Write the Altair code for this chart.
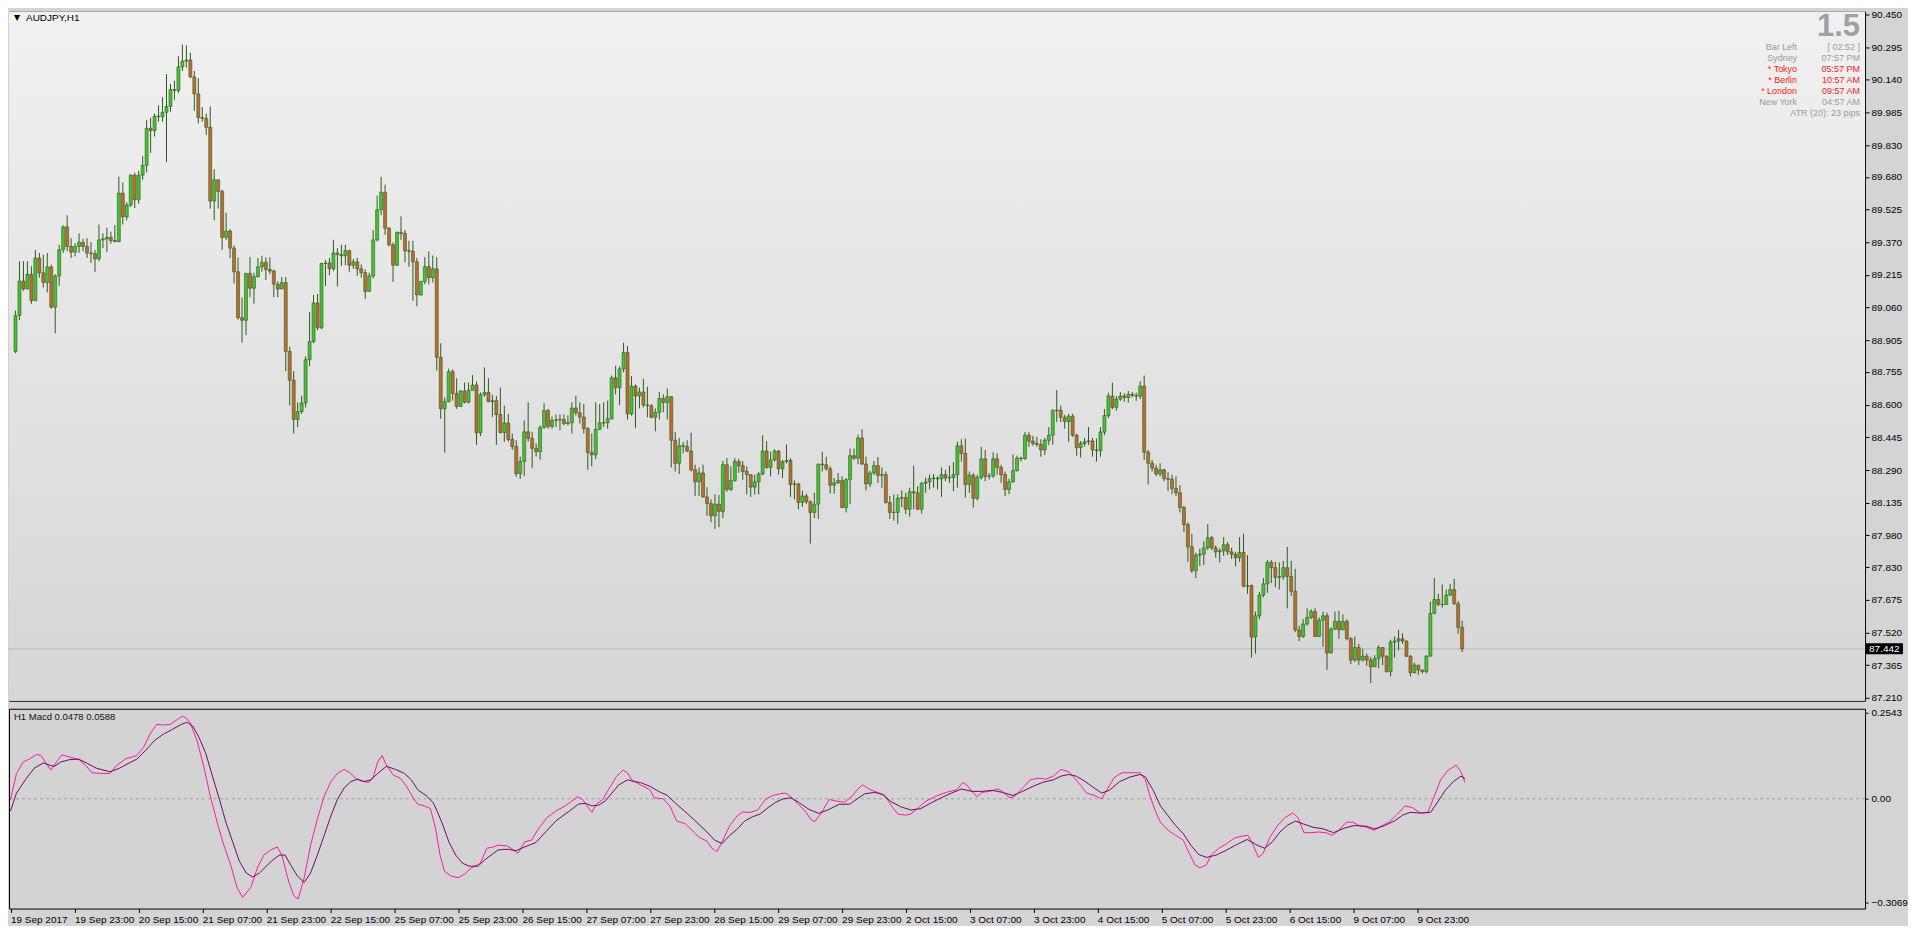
import altair as alt
import pandas as pd

# ---------------- data ----------------
SYMBOL = "AUDJPY,H1"
FIRST_OPEN = 88.852
CLOSE = [
    89.023, 89.186, 89.148, 89.218, 89.093, 89.295, 89.225, 89.179, 89.253, 89.062,
    89.210, 89.334, 89.443, 89.350, 89.323, 89.350, 89.370, 89.350, 89.319, 89.316,
    89.291, 89.381, 89.386, 89.393, 89.378, 89.373, 89.603, 89.490, 89.547, 89.688,
    89.571, 89.688, 89.734, 89.910, 89.899, 89.968, 89.965, 89.986, 90.014, 90.094,
    90.089, 90.201, 90.229, 90.234, 90.154, 90.073, 89.961, 89.957, 89.915, 89.565,
    89.666, 89.611, 89.393, 89.423, 89.342, 89.230, 89.012, 89.000, 89.222, 89.152,
    89.207, 89.253, 89.275, 89.241, 89.233, 89.171, 89.148, 89.179, 88.852, 88.716,
    88.530, 88.567, 88.608, 88.813, 88.899, 89.082, 88.964, 89.269, 89.272, 89.244,
    89.319, 89.311, 89.306, 89.330, 89.261, 89.277, 89.244, 89.226, 89.137, 89.210,
    89.381, 89.524, 89.607, 89.436, 89.358, 89.261, 89.417, 89.412, 89.330, 89.327,
    89.277, 89.120, 89.184, 89.254, 89.202, 89.244, 88.824, 88.580, 88.614, 88.756,
    88.653, 88.591, 88.665, 88.611, 88.668, 88.693, 88.466, 88.647, 88.658, 88.614,
    88.619, 88.553, 88.468, 88.513, 88.435, 88.401, 88.273, 88.331, 88.471, 88.440,
    88.393, 88.377, 88.491, 88.572, 88.497, 88.525, 88.528, 88.530, 88.510, 88.514,
    88.584, 88.561, 88.541, 88.486, 88.373, 88.362, 88.483, 88.514, 88.513, 88.533,
    88.727, 88.680, 88.769, 88.847, 88.556, 88.688, 88.641, 88.660, 88.598, 88.595,
    88.540, 88.564, 88.629, 88.610, 88.638, 88.431, 88.322, 88.405, 88.402, 88.380,
    88.291, 88.234, 88.276, 88.162, 88.131, 88.073, 88.128, 88.094, 88.315, 88.198,
    88.240, 88.330, 88.310, 88.283, 88.268, 88.209, 88.234, 88.271, 88.380, 88.302,
    88.338, 88.380, 88.296, 88.330, 88.335, 88.221, 88.224, 88.136, 88.167, 88.140,
    88.089, 88.128, 88.318, 88.315, 88.296, 88.218, 88.229, 88.240, 88.112, 88.244,
    88.358, 88.346, 88.442, 88.318, 88.224, 88.276, 88.311, 88.265, 88.268, 88.136,
    88.089, 88.089, 88.156, 88.159, 88.104, 88.187, 88.182, 88.104, 88.226, 88.234,
    88.249, 88.252, 88.248, 88.268, 88.252, 88.255, 88.268, 88.405, 88.369, 88.221,
    88.265, 88.156, 88.255, 88.343, 88.260, 88.262, 88.343, 88.302, 88.268, 88.198,
    88.234, 88.287, 88.346, 88.344, 88.455, 88.427, 88.416, 88.411, 88.385, 88.431,
    88.455, 88.571, 88.574, 88.540, 88.520, 88.545, 88.455, 88.396, 88.416, 88.424,
    88.428, 88.385, 88.382, 88.470, 88.548, 88.641, 88.587, 88.626, 88.641, 88.634,
    88.649, 88.644, 88.640, 88.688, 88.374, 88.322, 88.299, 88.271, 88.291, 88.249,
    88.246, 88.203, 88.182, 88.112, 88.031, 87.926, 87.813, 87.887, 87.891, 87.921,
    87.969, 87.921, 87.902, 87.907, 87.936, 87.902, 87.890, 87.874, 87.899, 87.739,
    87.742, 87.498, 87.599, 87.697, 87.750, 87.852, 87.827, 87.781, 87.784, 87.827,
    87.785, 87.715, 87.532, 87.501, 87.560, 87.591, 87.619, 87.501, 87.578, 87.599,
    87.423, 87.536, 87.572, 87.532, 87.572, 87.490, 87.389, 87.448, 87.389, 87.407,
    87.389, 87.357, 87.396, 87.448, 87.407, 87.334, 87.474, 87.479, 87.490, 87.479,
    87.407, 87.329, 87.365, 87.342, 87.334, 87.407, 87.610, 87.676, 87.653, 87.652,
    87.697, 87.723, 87.656, 87.544, 87.442,
]
HIGH = [
    89.046, 89.280, 89.280, 89.280, 89.256, 89.334, 89.319, 89.311, 89.319, 89.264,
    89.218, 89.358, 89.450, 89.498, 89.389, 89.365, 89.412, 89.386, 89.389, 89.370,
    89.334, 89.454, 89.412, 89.439, 89.420, 89.451, 89.681, 89.653, 89.560, 89.692,
    89.700, 89.708, 89.778, 89.949, 89.960, 89.980, 90.019, 90.058, 90.167, 90.120,
    90.136, 90.252, 90.307, 90.304, 90.268, 90.182, 90.148, 90.011, 89.980, 90.014,
    89.716, 89.666, 89.619, 89.510, 89.432, 89.355, 89.298, 89.109, 89.225, 89.300,
    89.225, 89.295, 89.306, 89.298, 89.298, 89.241, 89.186, 89.205, 89.205, 88.875,
    88.759, 88.611, 88.642, 88.829, 89.039, 89.120, 89.124, 89.272, 89.285, 89.296,
    89.381, 89.342, 89.358, 89.358, 89.335, 89.291, 89.296, 89.265, 89.241, 89.226,
    89.428, 89.591, 89.680, 89.643, 89.443, 89.369, 89.420, 89.493, 89.428, 89.377,
    89.377, 89.296, 89.187, 89.300, 89.327, 89.307, 89.300, 88.891, 88.634, 88.770,
    88.767, 88.725, 88.668, 88.704, 88.704, 88.740, 88.709, 88.658, 88.777, 88.725,
    88.647, 88.642, 88.681, 88.595, 88.556, 88.463, 88.432, 88.354, 88.525, 88.611,
    88.471, 88.416, 88.502, 88.606, 88.580, 88.544, 88.553, 88.553, 88.553, 88.549,
    88.611, 88.642, 88.611, 88.603, 88.494, 88.463, 88.611, 88.603, 88.611, 88.619,
    88.738, 88.784, 88.781, 88.893, 88.878, 88.735, 88.696, 88.680, 88.722, 88.685,
    88.602, 88.582, 88.660, 88.649, 88.676, 88.638, 88.470, 88.442, 88.423, 88.431,
    88.467, 88.315, 88.302, 88.315, 88.209, 88.151, 88.174, 88.171, 88.333, 88.346,
    88.307, 88.346, 88.343, 88.333, 88.307, 88.244, 88.268, 88.280, 88.455, 88.427,
    88.377, 88.389, 88.385, 88.338, 88.411, 88.346, 88.240, 88.229, 88.193, 88.178,
    88.146, 88.182, 88.320, 88.377, 88.353, 88.307, 88.252, 88.276, 88.260, 88.252,
    88.392, 88.392, 88.458, 88.483, 88.353, 88.287, 88.333, 88.352, 88.302, 88.283,
    88.167, 88.174, 88.174, 88.193, 88.182, 88.206, 88.311, 88.213, 88.234, 88.255,
    88.268, 88.271, 88.260, 88.302, 88.291, 88.311, 88.327, 88.424, 88.436, 88.439,
    88.283, 88.276, 88.268, 88.400, 88.385, 88.276, 88.374, 88.369, 88.315, 88.283,
    88.249, 88.364, 88.358, 88.353, 88.470, 88.470, 88.452, 88.447, 88.436, 88.442,
    88.494, 88.579, 88.669, 88.595, 88.551, 88.556, 88.556, 88.462, 88.427, 88.442,
    88.494, 88.442, 88.439, 88.494, 88.579, 88.657, 88.704, 88.641, 88.660, 88.654,
    88.665, 88.660, 88.657, 88.711, 88.738, 88.385, 88.338, 88.315, 88.322, 88.296,
    88.280, 88.268, 88.260, 88.218, 88.120, 88.042, 87.988, 87.898, 87.918, 87.952,
    88.034, 87.977, 87.933, 87.918, 87.972, 87.949, 87.921, 87.902, 87.972, 87.988,
    87.887, 87.747, 87.619, 87.712, 87.778, 87.863, 87.863, 87.855, 87.852, 87.859,
    87.925, 87.859, 87.821, 87.552, 87.583, 87.634, 87.630, 87.634, 87.591, 87.619,
    87.614, 87.544, 87.619, 87.622, 87.606, 87.583, 87.498, 87.501, 87.466, 87.443,
    87.420, 87.404, 87.412, 87.459, 87.451, 87.412, 87.485, 87.501, 87.532, 87.516,
    87.482, 87.412, 87.376, 87.354, 87.342, 87.412, 87.666, 87.778, 87.703, 87.747,
    87.723, 87.750, 87.775, 87.669, 87.575,
]
LOW = [
    88.844, 89.000, 89.140, 89.148, 89.078, 89.093, 89.202, 89.155, 89.132, 89.055,
    88.938, 89.163, 89.319, 89.327, 89.295, 89.303, 89.319, 89.327, 89.295, 89.272,
    89.230, 89.280, 89.342, 89.323, 89.362, 89.370, 89.370, 89.454, 89.474, 89.537,
    89.532, 89.552, 89.666, 89.700, 89.793, 89.871, 89.941, 89.941, 89.750, 89.988,
    90.045, 90.077, 90.182, 90.198, 90.148, 89.993, 89.933, 89.941, 89.879, 89.529,
    89.474, 89.529, 89.334, 89.381, 89.295, 89.174, 89.003, 88.894, 88.930, 89.109,
    89.078, 89.202, 89.230, 89.191, 89.218, 89.109, 89.109, 89.148, 88.759, 88.595,
    88.463, 88.494, 88.556, 88.587, 88.782, 88.891, 88.953, 88.958, 89.163, 89.213,
    89.233, 89.160, 89.257, 89.261, 89.230, 89.244, 89.210, 89.202, 89.101, 89.171,
    89.198, 89.373, 89.498, 89.405, 89.350, 89.182, 89.257, 89.381, 89.275, 89.254,
    89.093, 89.067, 89.117, 89.171, 89.171, 89.179, 88.762, 88.533, 88.373, 88.611,
    88.619, 88.580, 88.591, 88.606, 88.606, 88.668, 88.409, 88.451, 88.637, 88.611,
    88.541, 88.409, 88.463, 88.424, 88.424, 88.385, 88.258, 88.248, 88.261, 88.424,
    88.300, 88.354, 88.339, 88.486, 88.486, 88.486, 88.494, 88.479, 88.502, 88.502,
    88.463, 88.549, 88.510, 88.463, 88.292, 88.307, 88.342, 88.479, 88.494, 88.486,
    88.529, 88.649, 88.598, 88.753, 88.529, 88.548, 88.489, 88.582, 88.587, 88.540,
    88.535, 88.473, 88.529, 88.564, 88.529, 88.302, 88.283, 88.271, 88.369, 88.374,
    88.283, 88.167, 88.167, 88.159, 88.073, 88.042, 88.011, 88.019, 88.062, 88.187,
    88.190, 88.234, 88.276, 88.244, 88.174, 88.162, 88.174, 88.174, 88.265, 88.296,
    88.260, 88.330, 88.268, 88.252, 88.322, 88.162, 88.151, 88.104, 88.115, 88.128,
    87.941, 88.062, 88.058, 88.283, 88.287, 88.178, 88.178, 88.224, 88.109, 88.089,
    88.128, 88.338, 88.318, 88.315, 88.193, 88.209, 88.265, 88.229, 88.206, 88.131,
    88.058, 88.050, 88.034, 88.115, 88.081, 88.069, 88.104, 88.100, 88.084, 88.182,
    88.198, 88.206, 88.198, 88.162, 88.237, 88.229, 88.190, 88.206, 88.330, 88.159,
    88.182, 88.112, 88.146, 88.245, 88.237, 88.245, 88.252, 88.268, 88.229, 88.167,
    88.175, 88.229, 88.283, 88.330, 88.338, 88.400, 88.405, 88.400, 88.353, 88.361,
    88.408, 88.411, 88.517, 88.517, 88.486, 88.424, 88.447, 88.358, 88.349, 88.400,
    88.408, 88.353, 88.330, 88.353, 88.455, 88.536, 88.579, 88.571, 88.618, 88.613,
    88.610, 88.634, 88.618, 88.626, 88.338, 88.221, 88.283, 88.260, 88.260, 88.237,
    88.190, 88.175, 88.167, 88.089, 87.996, 87.855, 87.801, 87.778, 87.835, 87.840,
    87.910, 87.910, 87.874, 87.852, 87.883, 87.887, 87.868, 87.832, 87.855, 87.734,
    87.703, 87.401, 87.420, 87.583, 87.687, 87.708, 87.754, 87.734, 87.723, 87.770,
    87.634, 87.692, 87.521, 87.479, 87.494, 87.552, 87.583, 87.498, 87.498, 87.451,
    87.342, 87.420, 87.532, 87.490, 87.536, 87.482, 87.370, 87.381, 87.365, 87.381,
    87.361, 87.280, 87.357, 87.350, 87.365, 87.330, 87.311, 87.401, 87.435, 87.466,
    87.404, 87.311, 87.326, 87.319, 87.326, 87.326, 87.407, 87.606, 87.645, 87.638,
    87.653, 87.692, 87.650, 87.513, 87.427,
]
BID = 87.442
PRICE_TICKS = [90.450, 90.295, 90.140, 89.985, 89.830, 89.680, 89.525, 89.370, 89.215,
               89.060, 88.905, 88.755, 88.600, 88.445, 88.290, 88.135, 87.980, 87.830,
               87.675, 87.520, 87.365, 87.210]
PRICE_DOMAIN = [87.196, 90.464]

X_LABELS = ["19 Sep 2017", "19 Sep 23:00", "20 Sep 15:00", "21 Sep 07:00", "21 Sep 23:00",
            "22 Sep 15:00", "25 Sep 07:00", "25 Sep 23:00", "26 Sep 15:00", "27 Sep 07:00",
            "27 Sep 23:00", "28 Sep 15:00", "29 Sep 07:00", "29 Sep 23:00", "2 Oct 15:00",
            "3 Oct 07:00", "3 Oct 23:00", "4 Oct 15:00", "5 Oct 07:00", "5 Oct 23:00",
            "6 Oct 15:00", "9 Oct 07:00", "9 Oct 23:00"]
BARS_PER_LABEL = 16

MACD_TITLE = "H1 Macd 0.0478 0.0588"
MAIN_BAR = [0, 1.5, 3.2, 4.8, 6.5, 7.6, 8.7, 10.1, 11.5, 12.9, 14.9, 17.1, 18.8, 20.4, 22.7,
            24.9, 26.6, 28.8, 31.6, 33.3, 34.9, 36.6, 38.3, 40.0, 41.7, 43.0, 43.9, 45.0,
            46.7, 48.4, 50.0, 51.7, 53.4, 55.1, 56.7, 58.1, 60.1, 61.8, 63.4, 65.1, 66.8,
            67.9, 69.6, 70.9, 72.0, 73.5, 75.1, 76.8, 78.5, 80.2, 81.8, 83.5, 85.0, 86.3,
            87.4, 88.5, 89.7, 90.8, 91.9, 93.0, 94.1, 95.8, 97.5, 99.1, 100.8, 101.9, 103.6,
            105.1, 106.4, 107.5, 108.6, 110.3, 112.0, 113.6, 115.3, 117.6, 119.2, 120.9,
            122.0, 124.3, 125.9, 127.0, 128.7, 130.4, 132.1, 134.3, 136.5, 138.8, 140.4,
            141.9, 143.2, 144.3, 145.5, 146.6, 148.2, 149.9, 151.6, 153.3, 154.4, 155.5,
            157.7, 160.0, 161.1, 163.3, 165.0, 166.7, 168.9, 170.6, 172.2, 174.3, 175.5,
            176.8, 178.1, 180.0, 181.9, 183.2, 185.1, 187.0, 188.9, 190.8, 192.7, 194.0,
            195.3, 197.2, 199.1, 200.4, 201.3, 203.0, 204.9, 206.8, 208.7, 210.6, 211.9,
            213.2, 215.1, 217.0, 218.9, 220.8, 222.1, 224.0, 225.3, 227.2, 229.1, 231.6,
            234.2, 236.8, 238.3, 239.3, 240.6, 241.9, 243.1, 245.0, 247.0, 248.2, 250.1,
            251.4, 253.3, 255.2, 257.2, 259.1, 261.0, 262.9, 264.8, 266.1, 268.0, 269.3,
            271.2, 273.1, 274.4, 276.3, 278.2, 280.8, 282.7, 284.0, 285.2, 286.5, 287.8,
            289.7, 291.6, 293.5, 294.8, 296.4, 297.7, 299.3, 300.5, 302.4, 304.4, 306.3,
            308.2, 309.7, 311.0, 312.3, 313.5, 315.2, 317.1, 319.0, 320.9, 322.2, 323.7,
            325.4, 327.3, 329.2, 330.9, 332.4, 334.3, 336.0, 337.5, 339.4, 341.3, 343.3,
            345.2, 347.1, 349.0, 350.9, 352.8, 354.7, 356.0, 357.9, 359.8, 361.8, 363.0,
            364.0]
MAIN_VAL = [-0.002, 0.075, 0.109, 0.118, 0.131, 0.128, 0.109, 0.085, 0.109, 0.130, 0.123,
            0.116, 0.099, 0.077, 0.075, 0.075, 0.099, 0.118, 0.128, 0.152, 0.191, 0.220,
            0.218, 0.220, 0.234, 0.244, 0.239, 0.224, 0.171, 0.094, 0.008, -0.069, -0.137,
            -0.195, -0.262, -0.291, -0.262, -0.204, -0.166, -0.151, -0.142, -0.166, -0.243,
            -0.286, -0.296, -0.233, -0.137, -0.060, 0.008, 0.051, 0.075, 0.087, 0.077,
            0.061, 0.054, 0.051, 0.048, 0.065, 0.109, 0.128, 0.099, 0.070, 0.061, 0.037,
            0.003, -0.016, -0.021, -0.029, -0.089, -0.166, -0.214, -0.228, -0.233, -0.223,
            -0.204, -0.190, -0.146, -0.142, -0.137, -0.139, -0.151, -0.161, -0.127, -0.122,
            -0.089, -0.055, -0.036, -0.021, -0.007, 0.006, -0.002, -0.021, -0.040, -0.016,
            -0.002, 0.032, 0.065, 0.085, 0.077, 0.056, 0.041, 0.027, 0.003, 0.000, -0.021,
            -0.065, -0.074, -0.093, -0.113, -0.125, -0.146, -0.156, -0.127, -0.079, -0.050,
            -0.039, -0.040, -0.033, -0.002, 0.010, 0.015, 0.017, 0.006, -0.016, -0.040,
            -0.062, -0.067, -0.040, -0.002, -0.007, -0.010, 0.008, 0.027, 0.041, 0.027,
            0.019, 0.008, -0.026, -0.045, -0.048, -0.045, -0.026, -0.007, 0.008, 0.019,
            0.027, 0.048, 0.041, 0.022, 0.006, 0.019, 0.022, 0.029, 0.022, 0.003, 0.008,
            0.032, 0.056, 0.061, 0.058, 0.067, 0.087, 0.080, 0.064, 0.037, 0.017, 0.010,
            0.000, 0.027, 0.064, 0.077, 0.077, 0.077, 0.056, 0.008, -0.036, -0.069, -0.093,
            -0.108, -0.122, -0.156, -0.195, -0.204, -0.195, -0.166, -0.146, -0.132, -0.116,
            -0.110, -0.108, -0.137, -0.173, -0.161, -0.113, -0.079, -0.055, -0.042, -0.055,
            -0.100, -0.100, -0.098, -0.100, -0.108, -0.093, -0.069, -0.069, -0.079, -0.084,
            -0.093, -0.079, -0.067, -0.045, -0.021, -0.026, -0.042, -0.040, -0.002, 0.056,
            0.085, 0.099, 0.080, 0.048]
SIG_BAR = [0, 1.5, 3.7, 5.9, 8.2, 9.9, 11.0, 12.6, 14.9, 17.1, 19.3, 21.6, 24.9, 27.2, 29.4,
           31.6, 33.8, 36.1, 38.3, 40.5, 42.8, 44.1, 45.6, 47.2, 48.9, 50.6, 52.3, 53.9, 55.6,
           57.3, 59.0, 60.6, 62.3, 64.0, 65.7, 67.3, 68.7, 70.1, 71.8, 73.5, 75.1, 76.8, 78.5,
           80.2, 81.8, 83.5, 85.2, 86.9, 88.5, 90.2, 91.9, 94.1, 96.3, 98.6, 100.3, 101.9,
           104.2, 105.8, 106.9, 108.1, 109.7, 111.4, 113.1, 114.8, 117.0, 118.7, 120.3,
           122.0, 124.3, 126.5, 128.7, 131.5, 134.3, 136.5, 139.9, 142.1, 143.8, 145.5,
           147.1, 148.8, 150.5, 152.2, 154.4, 156.1, 157.7, 160.0, 162.2, 164.4, 166.7,
           170.0, 174.3, 176.2, 178.1, 180.0, 181.9, 183.8, 185.7, 187.6, 189.6, 191.5,
           193.4, 195.3, 197.2, 199.8, 202.3, 204.9, 207.4, 210.0, 211.9, 213.8, 216.3,
           218.3, 220.2, 222.7, 225.3, 227.8, 230.4, 232.9, 235.5, 238.0, 240.6, 243.1,
           245.7, 248.2, 250.8, 253.3, 255.9, 258.4, 261.0, 262.9, 264.8, 266.7, 268.6,
           271.2, 273.1, 275.0, 277.6, 280.1, 282.7, 284.0, 285.9, 287.8, 289.7, 291.6,
           293.5, 295.4, 297.3, 299.3, 301.8, 304.4, 306.9, 309.5, 312.0, 313.9, 315.8,
           317.7, 319.7, 321.6, 323.5, 326.0, 328.6, 331.1, 333.7, 336.2, 339.4, 341.3,
           343.9, 346.4, 348.4, 350.3, 352.8, 355.4, 357.3, 359.2, 361.1, 363.0, 364.0]
SIG_VAL = [-0.036, 0.017, 0.056, 0.090, 0.106, 0.099, 0.096, 0.109, 0.116, 0.117, 0.104,
           0.090, 0.080, 0.090, 0.104, 0.117, 0.143, 0.173, 0.191, 0.205, 0.220, 0.226,
           0.215, 0.181, 0.133, 0.065, -0.002, -0.069, -0.127, -0.185, -0.219, -0.231,
           -0.219, -0.199, -0.180, -0.166, -0.166, -0.195, -0.228, -0.247, -0.219, -0.166,
           -0.108, -0.050, -0.002, 0.032, 0.051, 0.058, 0.051, 0.056, 0.075, 0.096, 0.087,
           0.075, 0.056, 0.027, 0.008, -0.012, -0.040, -0.074, -0.127, -0.166, -0.190,
           -0.199, -0.199, -0.180, -0.166, -0.151, -0.149, -0.153, -0.142, -0.129, -0.093,
           -0.065, -0.036, -0.016, -0.013, -0.021, -0.019, -0.007, 0.017, 0.041, 0.056,
           0.051, 0.048, 0.037, 0.022, 0.010, -0.016, -0.050, -0.098, -0.122, -0.132,
           -0.108, -0.089, -0.065, -0.053, -0.045, -0.026, -0.010, 0.000, 0.003, -0.010,
           -0.031, -0.043, -0.031, -0.016, -0.016, 0.000, 0.015, 0.019, 0.013, -0.007,
           -0.023, -0.033, -0.029, -0.012, 0.003, 0.017, 0.029, 0.022, 0.022, 0.025, 0.019,
           0.010, 0.022, 0.037, 0.049, 0.056, 0.067, 0.072, 0.067, 0.054, 0.032, 0.017,
           0.025, 0.051, 0.064, 0.072, 0.065, 0.027, -0.021, -0.050, -0.079, -0.103,
           -0.137, -0.164, -0.173, -0.166, -0.151, -0.135, -0.120, -0.137, -0.146, -0.127,
           -0.098, -0.077, -0.066, -0.074, -0.084, -0.089, -0.100, -0.087, -0.079, -0.081,
           -0.089, -0.079, -0.065, -0.048, -0.040, -0.042, -0.040, -0.007, 0.027, 0.051,
           0.067, 0.059]
MACD_TICKS = [0.2543, 0.0, -0.3069]
MACD_DOMAIN = [-0.324, 0.266]

INFO_BIG = "1.5"
INFO_NAMES = ["Bar Left", "Sydney", "* Tokyo", "* Berlin", "* London", "New York"]
INFO_TIMES = ["[ 02:52 ]", "07:57 PM", "05:57 PM", "10:57 AM", "09:57 AM", "04:57 AM"]
INFO_RED = [False, False, True, True, True, False]
INFO_ATR = "ATR (20): 23 pips"

# ---------------- styling ----------------
W, H_PRICE, H_MACD = 1858, 690, 200
X0 = -0.375
XS = alt.Scale(domain=[X0, X0 + W / 4.0], nice=False, zero=False)
FONT = "Liberation Sans"
BULL, BEAR, WICK = "#46c230", "#c26a30", "#2d5a1e"
PINK, PURPLE = "#ff1aa3", "#6e0a66"
GREY_TXT, RED_TXT = "#9a9a9a", "#ff2020"

n = min(len(CLOSE), len(HIGH), len(LOW))
opens = [FIRST_OPEN] + CLOSE[: n - 1]
df = pd.DataFrame({
    "bar": list(range(n)),
    "open": opens,
    "close": CLOSE[:n],
    "high": [max(h, o, c) for h, o, c in zip(HIGH, opens, CLOSE)],
    "low": [min(l, o, c) for l, o, c in zip(LOW, opens, CLOSE)],
})
df["dir"] = ["up" if c >= o else "down" for o, c in zip(df["open"], df["close"])]

YS = alt.Scale(domain=PRICE_DOMAIN, nice=False, zero=False)
PAX = alt.Axis(values=PRICE_TICKS, format=".3f", orient="right", grid=False, domain=False,
               ticks=True, tickSize=4, tickColor="black", labelColor="black",
               labelFont=FONT, labelFontSize=10, labelPadding=2, labelOverlap=False,
               labelFlush=False, title=None)

xnone = alt.X("bar:Q", scale=XS, axis=None)

one = pd.DataFrame({"k": [0]})
grad = alt.LinearGradient(gradient="linear", x1=0, x2=0, y1=0, y2=1,
                          stops=[alt.GradientStop(offset=0, color="#f1f1f1"),
                                 alt.GradientStop(offset=1, color="#d6d6d6")])
bg = alt.Chart(one).mark_rect(fill=grad).encode(
    x=alt.value(0), x2=alt.value(W), y=alt.value(0), y2=alt.value(H_PRICE))

wicks = alt.Chart(df).mark_rule(color=WICK, strokeWidth=1).encode(
    x=xnone, y=alt.Y("low:Q", scale=YS, axis=PAX), y2="high:Q")
bodies = alt.Chart(df).mark_bar(size=3, stroke=WICK, strokeWidth=0.6).encode(
    x=xnone, y=alt.Y("open:Q", scale=YS, axis=PAX), y2="close:Q",
    fill=alt.Fill("dir:N", scale=alt.Scale(domain=["up", "down"], range=[BULL, BEAR]),
                  legend=None))
bid_df = pd.DataFrame({"p": [BID], "t": [f"{BID:.3f}"]})
bid_line = alt.Chart(bid_df).mark_rule(color="#b8b8b8", strokeWidth=1).encode(
    y=alt.Y("p:Q", scale=YS, axis=PAX))
bid_box = alt.Chart(bid_df).mark_tick(orient="horizontal", size=37, thickness=11,
                                      color="black", opacity=1).encode(
    x=alt.value(W + 19.5), y=alt.Y("p:Q", scale=YS, axis=PAX))
bid_txt = alt.Chart(bid_df).mark_text(align="left", baseline="middle", color="white",
                                      font=FONT, fontSize=10).encode(
    x=alt.value(W + 4), y=alt.Y("p:Q", scale=YS, axis=PAX), text="t:N")

hdr_tri = alt.Chart(one).mark_text(text="▼", align="left", baseline="middle",
                                   font="DejaVu Sans", fontSize=8, color="black").encode(
    x=alt.value(5), y=alt.value(7))
hdr_txt = alt.Chart(one).mark_text(text=SYMBOL, align="left", baseline="middle",
                                   font=FONT, fontSize=10, color="black").encode(
    x=alt.value(17), y=alt.value(7))
big = alt.Chart(one).mark_text(text=INFO_BIG, align="right", baseline="alphabetic",
                               font=FONT, fontSize=31, fontWeight="bold",
                               color="#a0a0a0").encode(x=alt.value(W - 5), y=alt.value(25))

# one text mark per info row (name column and time column), coloured grey or red
info_df = pd.DataFrame({
    "name": INFO_NAMES,
    "time": INFO_TIMES,
    "col": ["red" if r else "grey" for r in INFO_RED],
    "row": list(range(len(INFO_NAMES))),
})
ROW_Y0, ROW_DY = 36, 10.9
info_df["ypix"] = [ROW_Y0 + ROW_DY * r for r in info_df["row"]]
CSCALE = alt.Scale(domain=["grey", "red"], range=[GREY_TXT, RED_TXT])


def info_col(field, xpos):
    layers = []
    for _, rr in info_df.iterrows():
        layers.append(alt.Chart(one).mark_text(
            text=rr[field], align="right", baseline="middle", font=FONT, fontSize=9,
            color=RED_TXT if rr["col"] == "red" else GREY_TXT).encode(
            x=alt.value(xpos), y=alt.value(float(rr["ypix"]))))
    return layers


info_layers = info_col("name", W - 68) + info_col("time", W - 5)
atr = alt.Chart(one).mark_text(text=INFO_ATR, align="right", baseline="middle", font=FONT,
                               fontSize=9, color=GREY_TXT).encode(
    x=alt.value(W - 5), y=alt.value(ROW_Y0 + ROW_DY * len(INFO_NAMES)))

price = alt.layer(bg, bid_line, wicks, bodies, bid_box, bid_txt, hdr_tri, hdr_txt, big,
                  *info_layers, atr).properties(
    width=W, height=H_PRICE,
    view=alt.ViewBackground(stroke="black", strokeWidth=1))

# ---------------- MACD panel ----------------
label_arr = "[" + ",".join("'" + s + "'" for s in X_LABELS) + "]"
XAX = alt.Axis(values=[BARS_PER_LABEL * k for k in range(len(X_LABELS))],
               labelExpr=label_arr + "[round(datum.value/" + str(BARS_PER_LABEL) + ")]",
               orient="bottom", grid=False, domain=False, ticks=True, tickSize=4,
               tickColor="black", labelColor="black", labelFont=FONT, labelFontSize=10,
               labelAlign="left", labelBaseline="top", labelPadding=2,
               labelOverlap=False, labelFlush=False, title=None)
MYS = alt.Scale(domain=MACD_DOMAIN, nice=False, zero=False)
MAX = alt.Axis(values=MACD_TICKS, orient="right", grid=False, domain=False, ticks=True,
               tickSize=3, tickColor="black", labelColor="black", labelFont=FONT,
               labelFontSize=10, labelPadding=3, labelOverlap=False, labelFlush=False,
               labelExpr="datum.value == 0 ? '0.00' : format(datum.value, '.4f')",
               title=None)

main_df = pd.DataFrame({"bar": MAIN_BAR[:len(MAIN_VAL)], "v": MAIN_VAL[:len(MAIN_BAR)]})
sig_df = pd.DataFrame({"bar": SIG_BAR[:len(SIG_VAL)], "v": SIG_VAL[:len(SIG_BAR)]})
xax = alt.X("bar:Q", scale=XS, axis=XAX)

zero_df = pd.DataFrame({"bar": [X0], "v": [0.0]})
zero = alt.Chart(zero_df).mark_rule(color="#9c9c9c", strokeDash=[3, 3], strokeWidth=1).encode(
    y=alt.Y("v:Q", scale=MYS, axis=MAX))
main_line = alt.Chart(main_df).mark_line(color=PINK, strokeWidth=1).encode(
    x=xax, y=alt.Y("v:Q", scale=MYS, axis=MAX))
sig_line = alt.Chart(sig_df).mark_line(color=PURPLE, strokeWidth=1).encode(
    x=xax, y=alt.Y("v:Q", scale=MYS, axis=MAX))
macd_title = alt.Chart(one).mark_text(text=MACD_TITLE, align="left", baseline="middle",
                                      font=FONT, fontSize=9.5, color="#111111").encode(
    x=alt.value(5), y=alt.value(8))

macd = alt.layer(zero, main_line, sig_line, macd_title).properties(
    width=W, height=H_MACD,
    view=alt.ViewBackground(fill="#d3d3d3", stroke="black", strokeWidth=1))

chart = alt.vconcat(price, macd, spacing=3).properties(
    padding=0, background="#d4d4d4")

chart.save("out.html", embed_options={"renderer": "svg", "actions": False})
